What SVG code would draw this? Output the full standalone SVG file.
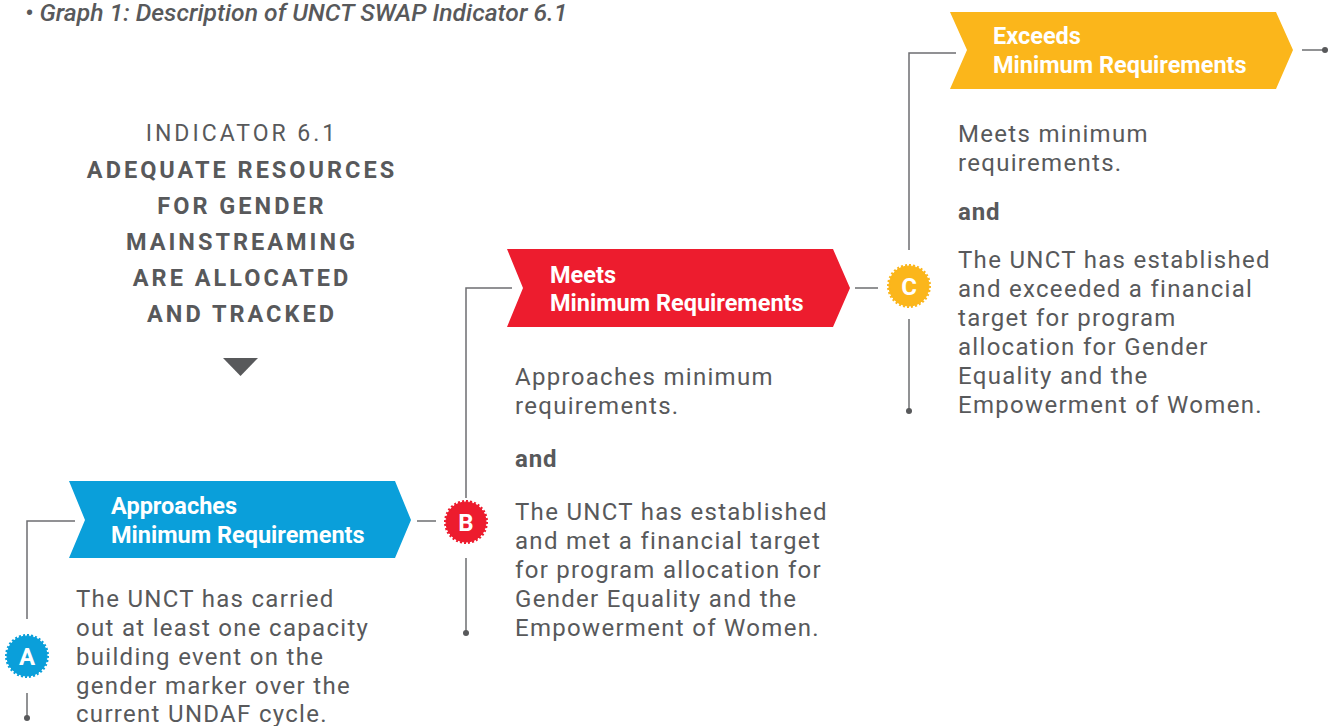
<svg xmlns="http://www.w3.org/2000/svg" width="1334" height="726" viewBox="0 0 1334 726">
<style>
.title{font-family:Roboto,"Liberation Sans",sans-serif;font-style:italic;font-weight:500;font-size:24.7px;fill:#58595b}
.ind{font-family:Roboto,"Liberation Sans",sans-serif;font-size:23px;fill:#58595b;letter-spacing:3px;text-anchor:middle}
.indb{font-family:Roboto,"Liberation Sans",sans-serif;font-size:23.5px;font-weight:bold;fill:#58595b;letter-spacing:3px;text-anchor:middle}
.ban{font-family:Roboto,"Liberation Sans",sans-serif;font-size:23.5px;font-weight:bold;fill:#fff}
.body{font-family:Roboto,"Liberation Sans",sans-serif;font-size:24px;fill:#58595b;letter-spacing:1.3px}
.and{font-family:Roboto,"Liberation Sans",sans-serif;font-size:24px;font-weight:bold;fill:#58595b;letter-spacing:0.8px}
.badge{font-family:Roboto,"Liberation Sans",sans-serif;font-size:24px;font-weight:bold;fill:#fff;text-anchor:middle}
.ln{fill:none;stroke:#6d6e71;stroke-width:1.5}
.dot{fill:#58595b}
</style>
<defs>
<g id="seal"><circle r="20" /><circle r="20.5" fill="none" stroke-width="3" pathLength="64" stroke-dasharray="1 1"/></g>
</defs>
<text class="title" x="25" y="21">• Graph 1: Description of UNCT SWAP Indicator 6.1</text>

<g id="indicator">
<text class="ind" x="242" y="141">INDICATOR 6.1</text>
<text class="indb" x="242" y="178">ADEQUATE RESOURCES</text>
<text class="indb" x="242" y="214">FOR GENDER</text>
<text class="indb" x="242" y="250">MAINSTREAMING</text>
<text class="indb" x="242" y="286">ARE ALLOCATED</text>
<text class="indb" x="242" y="322">AND TRACKED</text>
<polygon points="223,358 258,358 240.5,376" fill="#58595b"/>
</g>

<g id="connectors">
<polyline class="ln" points="75,521 27,521 27,619"/>
<line class="ln" x1="27" y1="693" x2="27" y2="718"/>
<circle class="dot" cx="27" cy="718" r="3"/>
<line class="ln" x1="417" y1="521" x2="436" y2="521"/>
<polyline class="ln" points="512,288 466,288 466,498"/>
<line class="ln" x1="466" y1="558" x2="466" y2="633"/>
<circle class="dot" cx="466" cy="633" r="3"/>
<line class="ln" x1="855" y1="288" x2="878" y2="288"/>
<polyline class="ln" points="956,53 909,53 909,250"/>
<line class="ln" x1="909" y1="319" x2="909" y2="411"/>
<circle class="dot" cx="909" cy="411" r="3"/>
<line class="ln" x1="1302" y1="50" x2="1325" y2="50"/>
<circle class="dot" cx="1325" cy="50" r="3"/>
</g>

<g id="level-a">
<polygon points="69,481 395,481 411,520 395,558 69,558 85,520" fill="#0a9fda"/>
<text class="ban" x="111" y="514">Approaches</text>
<text class="ban" x="111" y="543">Minimum Requirements</text>
<g transform="translate(27,656)" fill="#0a9fda" stroke="#0a9fda"><use href="#seal"/></g>
<text class="badge" x="27" y="664.5">A</text>
<text class="body" x="76" y="607">The UNCT has carried</text>
<text class="body" x="76" y="636">out at least one capacity</text>
<text class="body" x="76" y="665">building event on the</text>
<text class="body" x="76" y="694">gender marker over the</text>
<text class="body" x="76" y="722">current UNDAF cycle.</text>
</g>

<g id="level-b">
<polygon points="507,249 833,249 850,288 833,327 507,327 523,288" fill="#ed1c2e"/>
<text class="ban" x="550" y="283">Meets</text>
<text class="ban" x="550" y="311">Minimum Requirements</text>
<g transform="translate(466,522)" fill="#ed1c2e" stroke="#ed1c2e"><use href="#seal"/></g>
<text class="badge" x="466" y="530.5">B</text>
<text class="body" x="515" y="385">Approaches minimum</text>
<text class="body" x="515" y="414">requirements.</text>
<text class="and" x="515" y="467">and</text>
<text class="body" x="515" y="520">The UNCT has established</text>
<text class="body" x="515" y="549">and met a financial target</text>
<text class="body" x="515" y="578">for program allocation for</text>
<text class="body" x="515" y="607">Gender Equality and the</text>
<text class="body" x="515" y="636">Empowerment of Women.</text>
</g>

<g id="level-c">
<polygon points="950,12 1276,12 1293,50 1276,89 950,89 967,50" fill="#fbb61b"/>
<text class="ban" x="993" y="44">Exceeds</text>
<text class="ban" x="993" y="73">Minimum Requirements</text>
<g transform="translate(909,286)" fill="#fbb61b" stroke="#fbb61b"><use href="#seal"/></g>
<text class="badge" x="909" y="294.5">C</text>
<text class="body" x="958" y="142">Meets minimum</text>
<text class="body" x="958" y="171">requirements.</text>
<text class="and" x="958" y="220">and</text>
<text class="body" x="958" y="268">The UNCT has established</text>
<text class="body" x="958" y="297">and exceeded a financial</text>
<text class="body" x="958" y="326">target for program</text>
<text class="body" x="958" y="355">allocation for Gender</text>
<text class="body" x="958" y="384">Equality and the</text>
<text class="body" x="958" y="413">Empowerment of Women.</text>
</g>
</svg>
